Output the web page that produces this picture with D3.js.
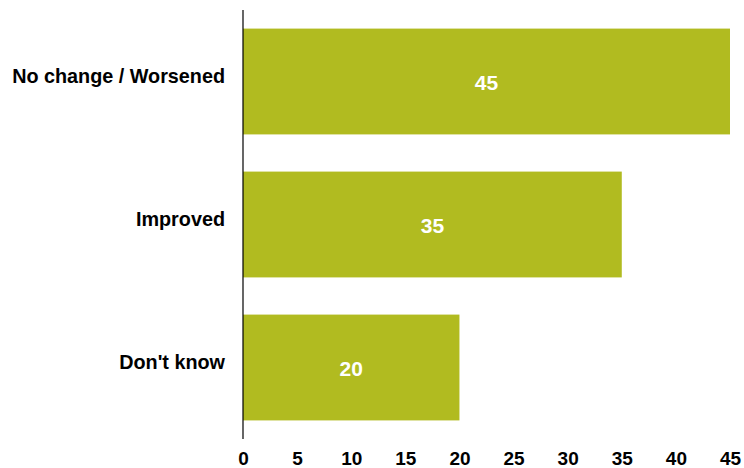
<!DOCTYPE html>
<html>
<head>
<meta charset="utf-8">
<script src="https://cdn.jsdelivr.net/npm/d3@7"></script>
<style>
  body { margin: 0; background: #fff; }
  text { font-family: "Liberation Sans", Arial, sans-serif; font-weight: bold; }
</style>
</head>
<body>
<svg width="744" height="468"></svg>
<script>
const categories = ['No change / Worsened', 'Improved', "Don't know"];
const values = [45, 35, 20];
const tickValues = [0, 5, 10, 15, 20, 25, 30, 35, 40, 45];

const svg = d3.select('svg');
const data = categories.map((c, i) => ({ cat: c, val: values[i] }));

const scX = d3.scaleLinear().domain([0, 45]).range([243, 730]);
const scY = d3.scaleBand().domain(categories).range([10, 439])
  .paddingInner(0.26).paddingOuter(0.13);

svg.append('g').selectAll('rect').data(data).enter()
  .append('rect')
  .attr('x', scX(0))
  .attr('y', d => scY(d.cat))
  .attr('width', d => scX(d.val) - scX(0))
  .attr('height', scY.bandwidth())
  .attr('fill', '#b1bb20');

svg.append('g').selectAll('text').data(data).enter()
  .append('text')
  .attr('x', d => (scX(0) + scX(d.val)) / 2)
  .attr('y', d => scY(d.cat) + scY.bandwidth() / 2 + 1)
  .attr('dy', '0.35em')
  .attr('text-anchor', 'middle')
  .attr('fill', '#fff')
  .attr('font-size', 21)
  .text(d => d.val);

// category labels
svg.append('g').selectAll('text').data(data).enter()
  .append('text')
  .attr('x', 225)
  .attr('y', d => scY(d.cat) + scY.bandwidth() / 2 - 5)
  .attr('dy', '0.35em')
  .attr('text-anchor', 'end')
  .attr('fill', '#000')
  .attr('font-size', 19.8)
  .text(d => d.cat);

// vertical axis line
svg.append('line')
  .attr('x1', scX(0)).attr('x2', scX(0))
  .attr('y1', 10).attr('y2', 439)
  .attr('stroke', '#000').attr('stroke-width', 1.2);

// bottom tick labels
const axB = svg.append('g')
  .attr('transform', 'translate(0,465)')
  .call(d3.axisBottom(scX).tickValues(tickValues).tickSize(0).tickPadding(0));
axB.select('.domain').remove();
axB.selectAll('text')
  .attr('y', 0).attr('dy', 0)
  .attr('font-size', 19)
  .attr('font-family', '"Liberation Sans", Arial, sans-serif')
  .attr('font-weight', 'bold')
  .attr('fill', '#000');
</script>
</body>
</html>
